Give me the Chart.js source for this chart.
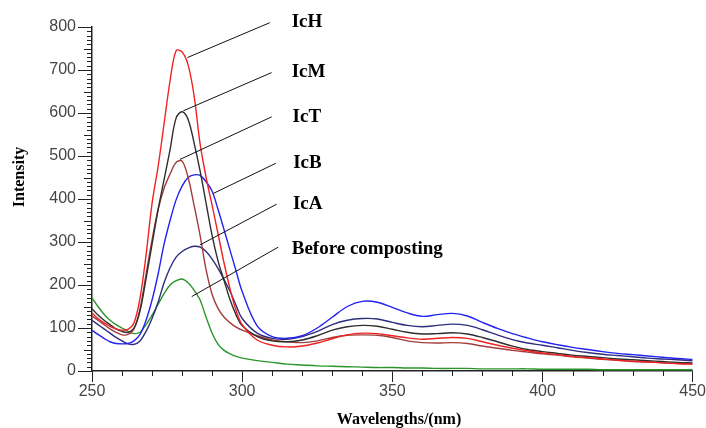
<!DOCTYPE html>
<html>
<head>
<meta charset="utf-8">
<script src="https://cdn.jsdelivr.net/npm/chart.js@4/dist/chart.umd.min.js"></script>
<style>
  html, body { margin: 0; padding: 0; background: #fff; }
  #wrap { width: 706px; height: 428px; }
</style>
</head>
<body>
<div id="wrap"><canvas id="spectra" width="706" height="428"></canvas></div>
<script>
// wavelengths (nm): 2 nm steps up to 300, then 5 nm steps
const wavelengths = [250,252,254,256,258,260,262,264,266,268,270,272,274,276,278,280,282,284,286,288,290,292,294,296,298,300,
  305,310,315,320,325,330,335,340,345,350,355,360,365,370,375,380,385,390,395,400,405,410,415,420,425,430,435,440,445,450];

const icH = [135,122,112,104,98,95,97,112,170,270,390,475,575,675,745,742,712,640,528,450,385,318,250,190,140,108,
  72,60,56,58,65,75,84,88,87,82,77,74,76,78,76,68,60,53,47,42,38,34,31,28,25,23,21,19,17,16];
const icM = [145,130,118,108,98,92,90,100,140,215,295,375,445,515,588,603,585,530,465,390,315,255,210,165,130,105,
  80,70,68,72,82,95,103,106,104,97,90,86,87,89,86,78,68,58,50,45,41,37,34,31,28,26,24,22,20,19];
const icT = [128,118,108,98,90,84,85,98,145,225,305,375,425,458,485,488,450,385,315,235,178,145,125,112,102,95,
  82,72,68,66,70,78,83,84,83,78,70,66,65,66,64,58,53,48,44,40,37,33,30,27,25,22,21,19,18,17];
const icB = [95,85,76,68,64,63,64,70,85,118,165,225,295,350,398,430,450,456,455,440,418,375,328,280,232,185,
  105,80,76,82,100,125,150,162,160,148,135,127,131,134,128,113,99,87,77,68,61,55,50,45,41,38,35,32,29,27];
const icA = [118,108,98,88,78,70,63,62,70,92,122,160,205,240,265,278,286,290,288,278,260,238,212,185,152,122,
  88,76,74,80,92,108,118,122,121,113,106,103,106,109,106,96,84,73,65,60,54,48,43,39,36,33,30,28,26,24];
const beforeComposting = [170,150,132,118,108,100,92,87,90,108,130,155,180,200,210,214,205,188,165,125,88,62,48,40,34,30,
  24,20,16,14,12,11,10,9,8,8,7,7,6,6,6,5,5,5,5,4,4,4,4,3,3,3,3,3,3,3];

const seriesNames = ['IcH', 'IcM', 'IcT', 'IcB', 'IcA', 'Before composting'];
const seriesValues = [icH, icM, icT, icB, icA, beforeComposting];
const seriesColors = ['#f02222', '#2e2e2e', '#a33c3c', '#2323f0', '#2e2e7e', '#2a962a'];

// leader lines: label end, curve end, text anchor (in wavelength / intensity units)
const leaderFrom = [[309.2,810],[309.8,694],[309.8,591],[311.2,483],[311.5,388],[312.0,288]];
const leaderTo   = [[281.8,729],[280.4,605],[279.3,492],[290.4,413],[285.9,293],[283.2,173]];
const labelAt    = [[316.5,799],[316.5,683],[316.8,580],[317.0,471],[316.9,376],[316.5,272]];

const AXIS_COLOR = '#222';
const TICK_FONT = { family: 'Liberation Sans, Arial, sans-serif', size: 16 };

const overlay = {
    id: 'overlay',
    afterDraw(chart) {
        const { ctx, scales: { x, y } } = chart;
        ctx.save();

        // minor ticks
        ctx.strokeStyle = AXIS_COLOR;
        ctx.lineWidth = 1;
        ctx.beginPath();
        for (let v = 10; v < 800; v += 10) {
            if (v % 100 === 0) continue;
            const py = Math.round(y.getPixelForValue(v)) + 0.5;
            const len = v % 50 === 0 ? 8 : 5;
            ctx.moveTo(x.left - len, py);
            ctx.lineTo(x.left, py);
        }
        for (let w = 260; w < 450; w += 10) {
            if (w % 50 === 0) continue;
            const px = Math.round(x.getPixelForValue(w)) + 0.5;
            ctx.moveTo(px, y.bottom);
            ctx.lineTo(px, y.bottom + 5);
        }
        ctx.stroke();

        // leader lines
        ctx.strokeStyle = '#111';
        ctx.beginPath();
        leaderFrom.forEach((from, i) => {
            const to = leaderTo[i];
            ctx.moveTo(x.getPixelForValue(from[0]), y.getPixelForValue(from[1]));
            ctx.lineTo(x.getPixelForValue(to[0]), y.getPixelForValue(to[1]));
        });
        ctx.stroke();

        // labels
        ctx.fillStyle = '#000';
        ctx.font = 'bold 19px "Liberation Serif", "Times New Roman", serif';
        ctx.textAlign = 'left';
        ctx.textBaseline = 'alphabetic';
        seriesNames.forEach((name, i) => {
            ctx.fillText(name, x.getPixelForValue(labelAt[i][0]), y.getPixelForValue(labelAt[i][1]));
        });

        // axis titles
        ctx.font = 'bold 16px "Liberation Serif", "Times New Roman", serif';
        ctx.textAlign = 'center';
        ctx.textBaseline = 'middle';
        ctx.fillText('Wavelengths/(nm)', 399, 420);
        ctx.translate(20, 177);
        ctx.rotate(-Math.PI / 2);
        ctx.fillText('Intensity', 0, 0);

        ctx.restore();
    }
};

new Chart(document.getElementById('spectra'), {
    type: 'line',
    data: {
        datasets: seriesNames.map((name, i) => ({
            label: name,
            data: wavelengths.map((w, j) => ({ x: w, y: seriesValues[i][j] })),
            borderColor: seriesColors[i],
            borderWidth: 1.4,
            pointRadius: 0,
            fill: false,
            tension: 0.35
        }))
    },
    options: {
        responsive: false,
        animation: false,
        layout: { padding: { left: 0, top: 27, right: 13, bottom: 0 } },
        plugins: {
            legend: { display: false },
            tooltip: { enabled: false }
        },
        scales: {
            x: {
                type: 'linear',
                min: 250,
                max: 450,
                ticks: { stepSize: 50, color: '#444', font: TICK_FONT, padding: 0, maxRotation: 0 },
                grid: { drawOnChartArea: false, drawTicks: true, tickLength: 11, color: AXIS_COLOR },
                border: { display: true, color: AXIS_COLOR, width: 1.5 },
                afterFit(scale) { scale.height = 57; }
            },
            y: {
                min: 0,
                max: 800,
                ticks: { stepSize: 100, color: '#444', font: TICK_FONT, padding: 2 },
                grid: { drawOnChartArea: false, drawTicks: true, tickLength: 14, color: AXIS_COLOR },
                border: { display: true, color: AXIS_COLOR, width: 1.5 },
                afterFit(scale) { scale.width = 92; }
            }
        }
    },
    plugins: [overlay]
});
</script>
</body>
</html>
